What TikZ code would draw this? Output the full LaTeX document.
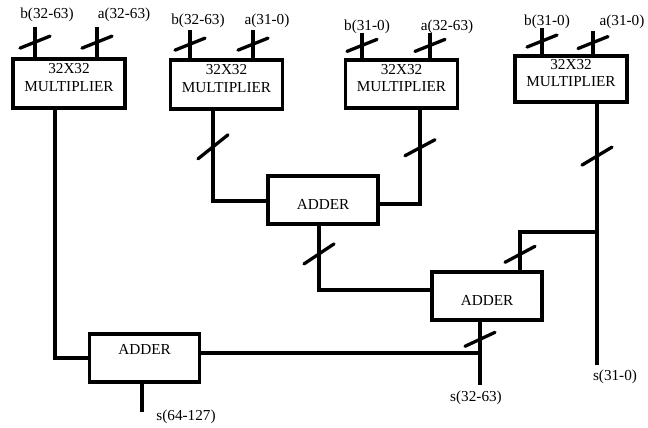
\documentclass[tikz,border=0pt]{standalone}
\usepackage{fontspec}
\setmainfont{Liberation Serif}
\usetikzlibrary{positioning,calc}

\begin{document}
\begin{tikzpicture}[x=0.03cm, y=-0.03cm,
    font=\fontsize{13}{15}\selectfont,
    mult/.style={rectangle, draw, line width=3.2pt, minimum width=3.36cm,
                 minimum height=1.46cm, align=center, inner sep=0pt, text depth=10pt},
    adder/.style={rectangle, draw, line width=3.2pt, minimum width=3.3cm,
                  minimum height=1.42cm, inner sep=0pt},
    wire/.style={line width=2.6pt},
    bustick/.pic={\draw[line width=2.8pt, line cap=round] (-15,#1) -- (15,-#1);}]

    \useasboundingbox (0,0) rectangle (648,428);

    % multipliers
    \node[mult] (m1) at (69,83.5) {32X32\\MULTIPLIER};
    \node[mult] (m2) at (226.5,84.5) {32X32\\MULTIPLIER};
    \node[mult] (m3) at (401.5,84) {32X32\\MULTIPLIER};
    \node[mult, minimum height=1.38cm] (m4) at (571,79) {32X32\\MULTIPLIER};

    % adders
    \node[adder, text height=17pt] (a1) at (323,200) {ADDER};
    \node[adder, text height=17pt] (a2) at (487,296) {ADDER};
    \node[adder, text depth=15pt] (a3) at (144.5,358) {ADDER};

    % input labels
    \node (m1bl) at (47,15) {b(32-63)};
    \node (m1al) at (124,15) {a(32-63)};
    \node (m2bl) at (198,21) {b(32-63)};
    \node (m2al) at (267,21) {a(31-0)};
    \node (m3bl) at (367,27) {b(31-0)};
    \node (m3al) at (447,27) {a(32-63)};
    \node (m4bl) at (547,22) {b(31-0)};
    \node (m4al) at (622,22) {a(31-0)};

    % inputs
    \coordinate (m1b) at (35,27);
    \coordinate (m1a) at (97,27);
    \coordinate (m2b) at (190,30);
    \coordinate (m2a) at (253,30);
    \coordinate (m3b) at (362,33);
    \coordinate (m3a) at (430,33);
    \coordinate (m4b) at (542,28);
    \coordinate (m4a) at (593,31);
    \draw[wire] (m1b) -- (m1.north -| m1b) pic[pos=0.5]{bustick=6};
    \draw[wire] (m1a) -- (m1.north -| m1a) pic[pos=0.5]{bustick=6};
    \draw[wire] (m2b) -- (m2.north -| m2b) pic[pos=0.5]{bustick=6};
    \draw[wire] (m2a) -- (m2.north -| m2a) pic[pos=0.5]{bustick=6};
    \draw[wire] (m3b) -- (m3.north -| m3b) pic[pos=0.5]{bustick=6};
    \draw[wire] (m3a) -- (m3.north -| m3a) pic[pos=0.5]{bustick=6};
    \draw[wire] (m4b) -- (m4.north -| m4b) pic[pos=0.5]{bustick=6};
    \draw[wire] (m4a) -- (m4.north -| m4a) pic[pos=0.5]{bustick=6};

    % outputs and sums
    \coordinate (s0) at (597,365);
    \coordinate (s1) at (480,385);
    \coordinate (s2) at (142,412);
    \coordinate (br) at (597,232);
    \draw[wire] (m1.south -| 55,0) |- (a3.west);
    \draw[wire] (m2.south -| 213,0) |- (a1.west |- 0,201) pic[pos=0.2]{bustick=12};
    \draw[wire] (m3.south -| 420,0) |- (a1.east |- 0,204) pic[pos=0.2]{bustick=8};
    \draw[wire] (m4.south -| s0) -- (s0) pic[pos=0.2]{bustick=9};
    \draw[wire] (br) -| (a2.north -| 520,0) pic[pos=0.79]{bustick=8};
    \draw[wire] (a1.south -| 319,0) |- (a2.west |- 0,290) pic[pos=0.22]{bustick=10};
    \draw[wire] (a2.south -| s1) -- (s1) pic[pos=0.28]{bustick=7};
    \draw[wire] (a3.east |- 0,353) -- (s1 |- 0,353);
    \draw[wire] (a3.south -| s2) -- (s2);

    % output labels
    \node (s0l) at (615,377) {s(31-0)};
    \node (s1l) at (476,398) {s(32-63)};
    \node (s2l) at (186,417) {s(64-127)};
\end{tikzpicture}
\end{document}
